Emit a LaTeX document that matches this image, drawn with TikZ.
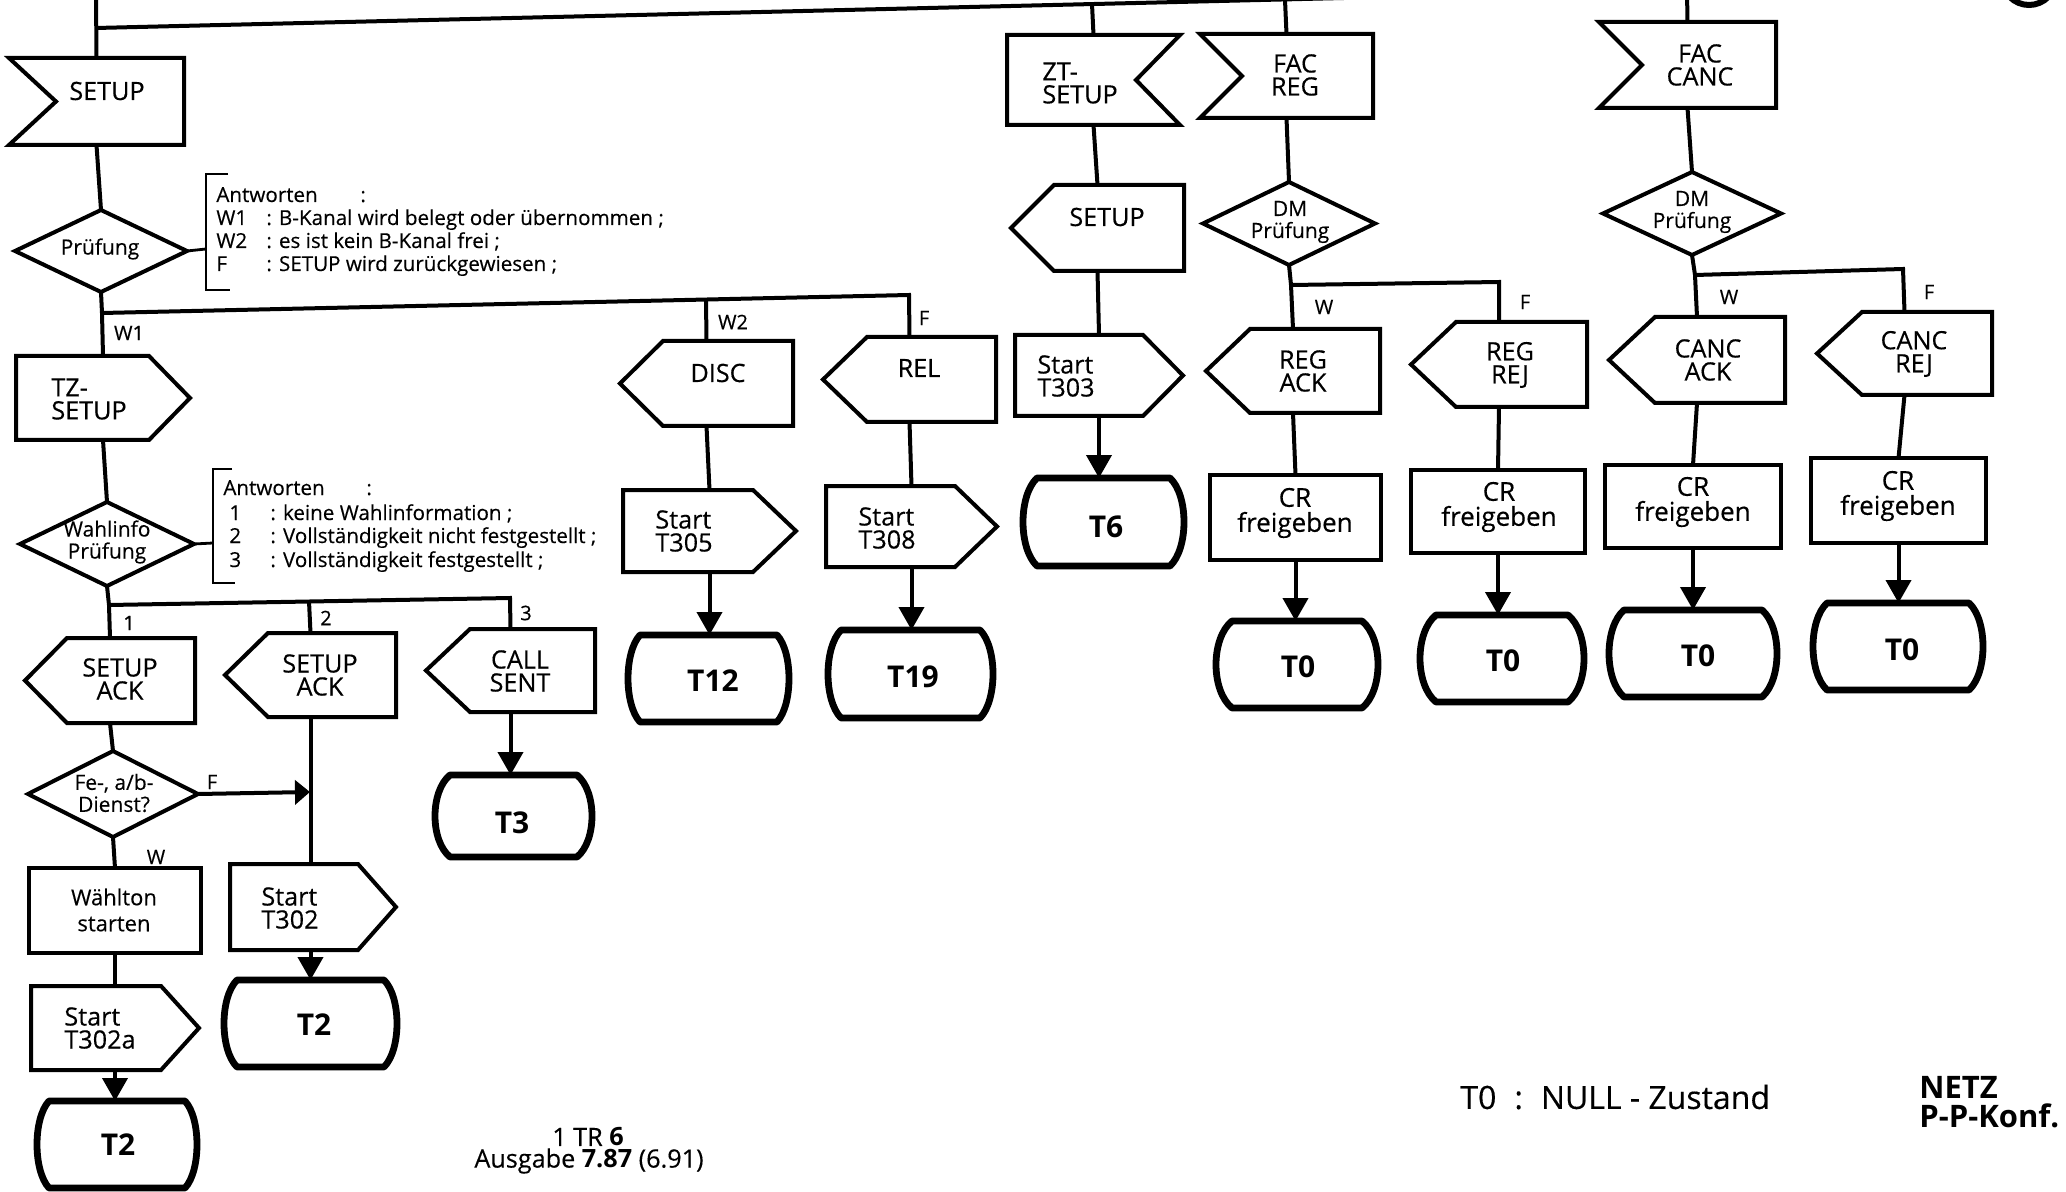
\documentclass[tikz,border=0pt]{standalone}
\usepackage{fontspec}
\setmainfont{Open Sans}[UprightFeatures={FakeBold=0.35}]
\usetikzlibrary{arrows.meta}
\tikzset{
  box/.style={line width=2pt, line join=miter, miter limit=10},
  statebox/.style={line width=3.4pt, line join=round},
  conn/.style={line width=2pt},
  arr/.style={conn, -{Triangle[length=11.5pt,width=12.5pt]}},
  arrs/.style={conn, -{Triangle[length=7.5pt,width=12pt]}},
  brk/.style={line width=1.4pt},
  lbl/.style={inner sep=0pt, align=center, font=\fontsize{12.6}{11.5}\selectfont},
  lbll/.style={lbl, align=left, anchor=west},
  crlbl/.style={inner sep=0pt, align=center, font=\fontsize{13}{12.5}\selectfont},
  wtlbl/.style={inner sep=0pt, align=center, font=\fontsize{11}{13}\selectfont},
  dtext/.style={inner sep=0pt, align=center, font=\fontsize{10.5}{11}\selectfont},
  note/.style={inner sep=0pt, anchor=base west, font=\fontsize{10.3}{11}\selectfont},
  tag/.style={inner sep=0pt, font=\fontsize{10}{12}\selectfont},
  stlbl/.style={inner sep=0pt, font=\fontsize{15}{16}\selectfont\bfseries},
  legend/.style={inner sep=0pt, anchor=west, font=\fontsize{16}{17}\selectfont},
}
% shape with left side: point (px<l) or notch (px>l)
\newcommand\myshpL[6]{%
  \draw[box] (#2,#3) -- (#4,#3) -- (#4,#5) -- (#2,#5) -- (#6,{(#3+#5)/2}) -- cycle;
  \coordinate (#1-t) at ({(min(#2,#6)+#4)/2},#3);
  \coordinate (#1-b) at ({(min(#2,#6)+#4)/2},#5);}
% shape with right side: point (px>r) or notch (px<r)
\newcommand\myshpR[6]{%
  \draw[box] (#2,#3) -- (#4,#3) -- (#6,{(#3+#5)/2}) -- (#4,#5) -- (#2,#5) -- cycle;
  \coordinate (#1-t) at ({(#2+max(#4,#6))/2},#3);
  \coordinate (#1-b) at ({(#2+max(#4,#6))/2},#5);}
\newcommand\mydia[5]{%
  \draw[box] (#2,{#3-#5}) -- ({#2+#4},#3) -- (#2,{#3+#5}) -- ({#2-#4},#3) -- cycle;
  \coordinate (#1-t) at (#2,{#3-#5});
  \coordinate (#1-b) at (#2,{#3+#5});
  \coordinate (#1-r) at ({#2+#4},#3);
  \coordinate (#1-l) at ({#2-#4},#3);}
\newcommand\myrct[5]{%
  \draw[box] (#2,#3) rectangle (#4,#5);
  \coordinate (#1-t) at ({(#2+#4)/2},#3);
  \coordinate (#1-b) at ({(#2+#4)/2},#5);}
\newcommand\mystt[6]{%
  \draw[statebox] (#2,#3) -- (#4,#3)
    .. controls ({#4+#6/0.75},{#3+0.2*(#5-#3)}) and ({#4+#6/0.75},{#5-0.2*(#5-#3)}) .. (#4,#5)
    -- (#2,#5)
    .. controls ({#2-#6/0.75},{#5-0.2*(#5-#3)}) and ({#2-#6/0.75},{#3+0.2*(#5-#3)}) .. (#2,#3) -- cycle;
  \coordinate (#1-t) at ({(#2+#4)/2},#3);}
\begin{document}
\begin{tikzpicture}[x=0.5pt,y=-0.5pt]
\useasboundingbox (0,0) rectangle (2066,1192);

% ---------- top line ----------
\coordinate (top0) at (96,-6);
\coordinate (topL) at (96,28);
\coordinate (topR) at (1760,-12);
\coordinate (topZ) at (1092,4);
\coordinate (topF) at (1285,0);
\coordinate (topC) at (1687,-8);
\draw[conn] (topL) -- (topR);
\draw[line width=3pt] (2029,-22) circle [radius=13.5pt];

% ---------- column 1 ----------
\myshpL{setup}{9}{58}{184}{145}{56}
\node[lbl] (setupT) at (107,91) {SETUP};
\mydia{prf}{101}{251}{86}{41}
\node[dtext] (prfT) at (100,249) {Prüfung};
\draw[conn] (top0) -- (setup-t);
\draw[conn] (setup-b) -- (prf-t);

% bracket 1
\coordinate (bk1) at (206,249);
\draw[brk] (prf-r) -- (bk1);
\draw[brk] (228,174) -- (206,174) -- (206,290) -- (230,290);
\node[note] (n1a) at (216,202) {Antworten};
\node[note] (n1b) at (360,202) {:};
\node[note] (n1c) at (216,225) {W1};
\node[note] (n1d) at (266,225) {: B-Kanal wird belegt oder übernommen ;};
\node[note] (n1e) at (216,248) {W2};
\node[note] (n1f) at (266,248) {: es ist kein B-Kanal frei ;};
\node[note] (n1g) at (216,271) {F};
\node[note] (n1h) at (266,271) {: SETUP wird zurückgewiesen ;};

% TZ-SETUP / Wahlinfo
\myshpR{tz}{16}{356}{149}{440}{190}
\node[lbll] (tzT) at (51,399) {TZ-\\SETUP};
\mydia{wahl}{107}{544}{87}{42}
\node[dtext] (wahlT) at (107,542) {Wahlinfo\\Prüfung};
\draw[conn] (tz-b) -- (wahl-t);

% bracket 2
\coordinate (bk2) at (213,543);
\draw[brk] (wahl-r) -- (bk2);
\draw[brk] (232,469) -- (213,469) -- (213,583) -- (235,583);
\node[note] (n2a) at (223,495) {Antworten};
\node[note] (n2b) at (366,495) {:};
\node[note] (n2c) at (229,520) {1};
\node[note] (n2d) at (270,520) {: keine Wahlinformation ;};
\node[note] (n2e) at (229,543) {2};
\node[note] (n2f) at (270,543) {: Vollständigkeit nicht festgestellt ;};
\node[note] (n2g) at (229,567) {3};
\node[note] (n2h) at (270,567) {: Vollständigkeit festgestellt ;};

% branch 1 targets
\myshpL{disc}{663}{341}{793}{426}{620}
\node[lbl] (discT) at (718,373) {DISC};
\myshpL{rel}{867}{337}{996}{422}{823}
\node[lbl] (relT) at (919,368) {REL};
\coordinate (br1) at (102,313);
\coordinate (br1d) at (706,300);
\coordinate (br1e) at (909,295);
\draw[conn] (prf-b) -- (br1) -- (br1e) -- (rel-t);
\draw[conn] (br1) -- (tz-t);
\draw[conn] (br1d) -- (disc-t);
\node[tag] (lW1) at (129,333) {W1};
\node[tag] (lW2) at (733,322) {W2};
\node[tag] (lF1) at (924,318) {F};

% branch 2 targets
\myshpL{ack1}{67}{638}{195}{723}{25}
\node[lbl] (ack1T) at (120,679) {SETUP\\ACK};
\myshpL{ack2}{268}{633}{396}{717}{225}
\node[lbl] (ack2T) at (320,675) {SETUP\\ACK};
\myshpL{call}{470}{629}{595}{712}{426}
\node[lbl] (callT) at (520,671) {CALL\\SENT};
\coordinate (br2) at (109,605);
\coordinate (br2m) at (309,601);
\coordinate (br2e) at (510,598);
\draw[conn] (wahl-b) -- (br2) -- (br2e) -- (call-t);
\draw[conn] (br2) -- (ack1-t);
\draw[conn] (br2m) -- (ack2-t);
\node[tag] (l1) at (129,623) {1};
\node[tag] (l2) at (326,618) {2};
\node[tag] (l3) at (526,613) {3};

% Fe-, a/b-Dienst?
\mydia{fe}{113}{794}{85}{43}
\node[dtext] (feT) at (114,793) {Fe-, a/b-\\Dienst?};
\draw[conn] (ack1-b) -- (fe-t);
\node[tag] (lF2) at (212,782) {F};
\node[tag] (lW3) at (156,857) {W};
\myrct{wt}{29}{868}{201}{953}
\node[wtlbl] (wtT) at (114,910) {Wählton\\starten};
\draw[conn] (fe-b) -- (wt-t);
\myshpR{ta}{31}{986}{161}{1070}{199}
\node[lbll] (taT) at (64,1028) {Start\\T302a};
\draw[conn] (wt-b) -- (ta-t);
\mystt{sa}{49}{1101}{185}{1188}{12}
\node[stlbl] (saT) at (118,1145) {T2};
\draw[arr] (ta-b) -- (ta-b |- sa-t);

% SETUP ACK 2 column
\myshpR{tb}{230}{864}{358}{950}{396}
\node[lbll] (tbT) at (261,908) {Start\\T302};
\draw[conn] (ack2-b) -- (ack2-b |- tb-t);
\coordinate (fearr) at (310,792);
\draw[arrs] (fe-r) -- (fearr);
\mystt{sb}{237}{980}{384}{1067}{13}
\node[stlbl] (sbT) at (314,1025) {T2};
\draw[arr] (ack2-b |- tb-b) -- (ack2-b |- sb-t);

% CALL SENT column
\mystt{s3}{450}{775}{577}{857}{15}
\node[stlbl] (s3T) at (512,823) {T3};
\draw[arr] (call-b) -- (call-b |- s3-t);

% DISC column
\myshpR{t305}{623}{490}{753}{572}{796}
\node[lbll] (t305T) at (655,531) {Start\\T305};
\draw[conn] (disc-b) -- (t305-t);
\mystt{s12}{640}{635}{777}{722}{12}
\node[stlbl] (s12T) at (713,681) {T12};
\draw[arr] (t305-b) -- (t305-b |- s12-t);

% REL column
\myshpR{t308}{826}{486}{955}{567}{997}
\node[lbll] (t308T) at (858,528) {Start\\T308};
\draw[conn] (rel-b) -- (t308-t);
\mystt{s19}{841}{630}{980}{718}{13}
\node[stlbl] (s19T) at (913,677) {T19};
\draw[arr] (t308-b) -- (t308-b |- s19-t);

% ZT-SETUP column
\myshpR{zt}{1007}{35}{1180}{125}{1136}
\node[lbll] (ztT) at (1042,83) {ZT-\\SETUP};
\draw[conn] (topZ) -- (zt-t);
\myshpL{so}{1054}{185}{1184}{271}{1011}
\node[lbl] (soT) at (1107,217) {SETUP};
\draw[conn] (zt-b) -- (so-t);
\myshpR{t303}{1015}{335}{1143}{416}{1183}
\node[lbll] (t303T) at (1037,376) {Start\\T303};
\draw[conn] (so-b) -- (t303-t);
\mystt{s6}{1037}{478}{1170}{566}{14}
\node[stlbl] (s6T) at (1106,527) {T6};
\draw[arr] (t303-b) -- (t303-b |- s6-t);

% FAC REG column
\myshpL{fr}{1200}{34}{1373}{118}{1242}
\node[lbl] (frT) at (1295,75) {FAC\\REG};
\draw[conn] (topF) -- (fr-t);
\mydia{dmr}{1289}{223.5}{86}{41.5}
\node[dtext] (dmrT) at (1290,222) {DM\\Prüfung};
\draw[conn] (fr-b) -- (dmr-t);
\myshpL{ra}{1250}{329}{1380}{413}{1206}
\node[lbl] (raT) at (1303,371) {REG\\ACK};
\myshpL{rr}{1456}{322}{1587}{407}{1411}
\node[lbl] (rrT) at (1510,365) {REG\\REJ};
\coordinate (br3) at (1291,285);
\coordinate (br3e) at (1499,282);
\draw[conn] (dmr-b) -- (br3) -- (br3e) -- (rr-t);
\draw[conn] (br3) -- (ra-t);
\node[tag] (lW4) at (1324,307) {W};
\node[tag] (lF3) at (1525,302) {F};
\myrct{cr1}{1210}{475}{1381}{560}
\node[crlbl] (cr1T) at (1295,513) {CR\\freigeben};
\draw[conn] (ra-b) -- (cr1-t);
\mystt{z1}{1232}{621}{1362}{708}{16}
\node[stlbl] (z1T) at (1298,667) {T0};
\draw[arr] (cr1-b) -- (cr1-b |- z1-t);
\myrct{cr2}{1411}{470}{1585}{553}
\node[crlbl] (cr2T) at (1499,507) {CR\\freigeben};
\draw[conn] (rr-b) -- (cr2-t);
\mystt{z2}{1436}{615}{1568}{702}{16}
\node[stlbl] (z2T) at (1503,661) {T0};
\draw[arr] (cr2-b) -- (cr2-b |- z2-t);

% FAC CANC column
\myshpL{fc}{1599}{22}{1776}{108}{1642}
\node[lbl] (fcT) at (1700,65) {FAC\\CANC};
\draw[conn] (topC) -- (fc-t);
\mydia{dmc}{1692}{213.5}{89}{41.5}
\node[dtext] (dmcT) at (1692,212) {DM\\Prüfung};
\draw[conn] (fc-b) -- (dmc-t);
\myshpL{ca}{1655}{317}{1785}{403}{1609}
\node[lbl] (caT) at (1708,360) {CANC\\ACK};
\myshpL{cj}{1862}{312}{1992}{395}{1817}
\node[lbl] (cjT) at (1914,354) {CANC\\REJ};
\coordinate (br4) at (1695,275);
\coordinate (br4e) at (1903,269);
\draw[conn] (dmc-b) -- (br4) -- (br4e) -- (cj-t);
\draw[conn] (br4) -- (ca-t);
\node[tag] (lW5) at (1729,297) {W};
\node[tag] (lF4) at (1929,292) {F};
\myrct{cr3}{1605}{465}{1781}{548}
\node[crlbl] (cr3T) at (1693,502) {CR\\freigeben};
\draw[conn] (ca-b) -- (cr3-t);
\mystt{z3}{1624}{610}{1762}{697}{15}
\node[stlbl] (z3T) at (1698,656) {T0};
\draw[arr] (cr3-b) -- (cr3-b |- z3-t);
\myrct{cr4}{1811}{458}{1986}{543}
\node[crlbl] (cr4T) at (1898,496) {CR\\freigeben};
\draw[conn] (cj-b) -- (cr4-t);
\mystt{z4}{1827}{603}{1969}{690}{14}
\node[stlbl] (z4T) at (1902,650) {T0};
\draw[arr] (cr4-b) -- (cr4-b |- z4-t);

% ---------- legend / footer ----------
\node[legend] (leg) at (1460,1097) {T0\hspace{9pt}:\hspace{9pt}NULL - Zustand};
\node[legend, align=left, font=\fontsize{15.5}{14.5}\selectfont\bfseries] (netz) at (1919,1102) {NETZ\\P-P-Konf.};
\node[inner sep=0pt, font=\fontsize{12.6}{14}\selectfont] (ftA) at (588,1137) {1 TR \textbf{6}};
\node[inner sep=0pt, font=\fontsize{12.6}{14}\selectfont] (ftB) at (589,1161) {Ausgabe \textbf{7.87} (6.91)};
\end{tikzpicture}
\end{document}
